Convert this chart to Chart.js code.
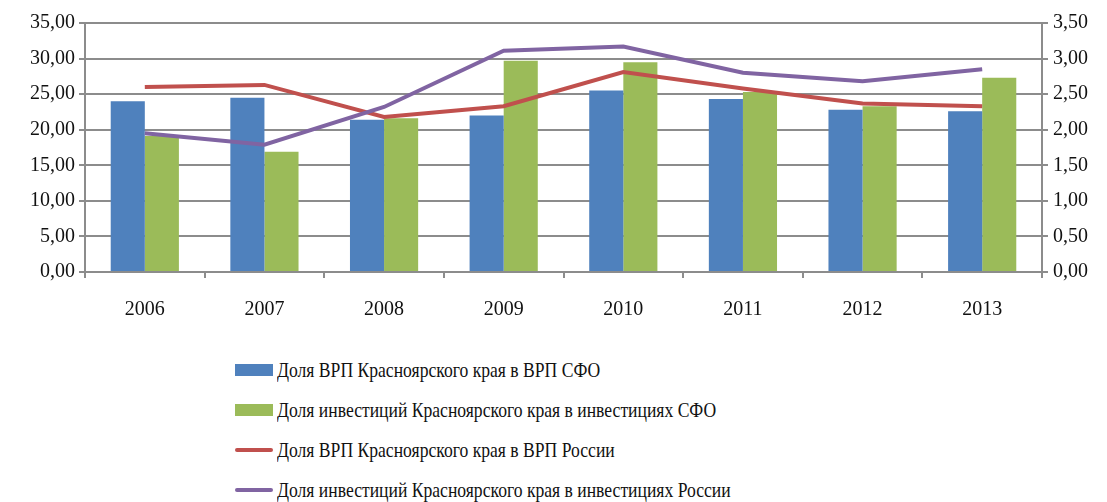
<!DOCTYPE html>
<html>
<head>
<meta charset="utf-8">
<script src="https://cdn.jsdelivr.net/npm/chart.js@4/dist/chart.umd.min.js"></script>
<style>
  html,body{margin:0;padding:0;background:#fff}
  #wrap{position:relative;width:1107px;height:502px;font-family:"Liberation Serif","Times New Roman",serif}
  #box{position:absolute;left:0;top:0;width:1107px;height:330px}
  #legend{position:absolute;left:235px;top:350px}
  .lg-item{display:flex;align-items:center;height:40px;color:#111}
  .lg-mark{width:38px;margin-right:4px;flex:none}
  .lg-text{font-size:22px;display:inline-block;transform:scaleX(0.8);transform-origin:left center;white-space:nowrap}
</style>
</head>
<body>
<div id="wrap">
  <div id="box"><canvas id="chart"></canvas></div>
  <div id="legend"></div>
</div>
<script>
// ── Data ──
var years=['2006','2007','2008','2009','2010','2011','2012','2013'];
var grpSfo=[24.0,24.5,21.4,22.0,25.5,24.3,22.8,22.6];
var invSfo=[19.1,16.9,21.6,29.7,29.5,25.3,23.3,27.3];
var grpRus=[2.60,2.63,2.18,2.33,2.81,2.58,2.37,2.33];
var invRus=[1.95,1.79,2.32,3.11,3.17,2.80,2.68,2.85];
var names=[
  'Доля ВРП Красноярского края в ВРП СФО',
  'Доля инвестиций Красноярского края в инвестициях СФО',
  'Доля ВРП Красноярского края в ВРП России',
  'Доля инвестиций Красноярского края в инвестициях России'
];
var colors=['#4F81BD','#9BBB59','#C0504D','#8064A2'];

function fmt(v){return Number(v).toFixed(2).replace('.',',')}
var tickFont={family:'"Liberation Serif","Times New Roman",serif',size:20};
var axisGray='#8c8c8c';

var ctx=document.getElementById('chart');
var chart=new Chart(ctx,{
  data:{
    labels:years,
    datasets:[
      {type:'bar',label:names[0],data:grpSfo,yAxisID:'y',backgroundColor:colors[0],order:2,categoryPercentage:0.57,barPercentage:1},
      {type:'bar',label:names[1],data:invSfo,yAxisID:'y',backgroundColor:colors[1],order:3,categoryPercentage:0.57,barPercentage:1},
      {type:'line',label:names[2],data:grpRus,yAxisID:'y2',borderColor:colors[2],backgroundColor:colors[2],borderWidth:4,pointRadius:0,tension:0,order:1},
      {type:'line',label:names[3],data:invRus,yAxisID:'y2',borderColor:colors[3],backgroundColor:colors[3],borderWidth:4,pointRadius:0,tension:0,order:0}
    ]
  },
  options:{
    responsive:true,maintainAspectRatio:false,animation:false,
    layout:{padding:{top:23,left:0,right:0,bottom:0}},
    plugins:{legend:{display:false},tooltip:{enabled:false}},
    scales:{
      x:{
        grid:{offset:true,drawOnChartArea:false,drawTicks:true,tickLength:6,color:axisGray,lineWidth:2},
        border:{color:axisGray,width:2},
        ticks:{color:'#111',font:tickFont,padding:20},
        afterFit:function(s){s.height=330-272}
      },
      y:{
        position:'left',min:0,max:35,
        ticks:{stepSize:5,color:'#111',font:tickFont,padding:4,callback:function(v){return fmt(v)}},
        grid:{color:axisGray,lineWidth:2,tickLength:6},
        border:{color:axisGray,width:2},
        afterFit:function(s){s.width=85}
      },
      y2:{
        position:'right',min:0,max:3.5,
        ticks:{stepSize:0.5,color:'#111',font:tickFont,padding:5,callback:function(v){return fmt(v)}},
        grid:{drawOnChartArea:false,color:axisGray,lineWidth:2,tickLength:6},
        border:{color:axisGray,width:2},
        afterFit:function(s){s.width=65}
      }
    }
  }
});

// ── Legend (column, below the chart) ──
function buildLegend(){
  var el=document.getElementById('legend');
  var html='';
  chart.data.datasets.forEach(function(ds){
    var mark=ds.type==='bar'
      ?'<div class="lg-mark" style="height:12px;background:'+ds.backgroundColor+'"></div>'
      :'<div class="lg-mark" style="height:4px;border-radius:2px;background:'+ds.borderColor+'"></div>';
    html+='<div class="lg-item">'+mark+'<span class="lg-text">'+ds.label+'</span></div>';
  });
  el.innerHTML=html;
}
buildLegend();
</script>
</body>
</html>
